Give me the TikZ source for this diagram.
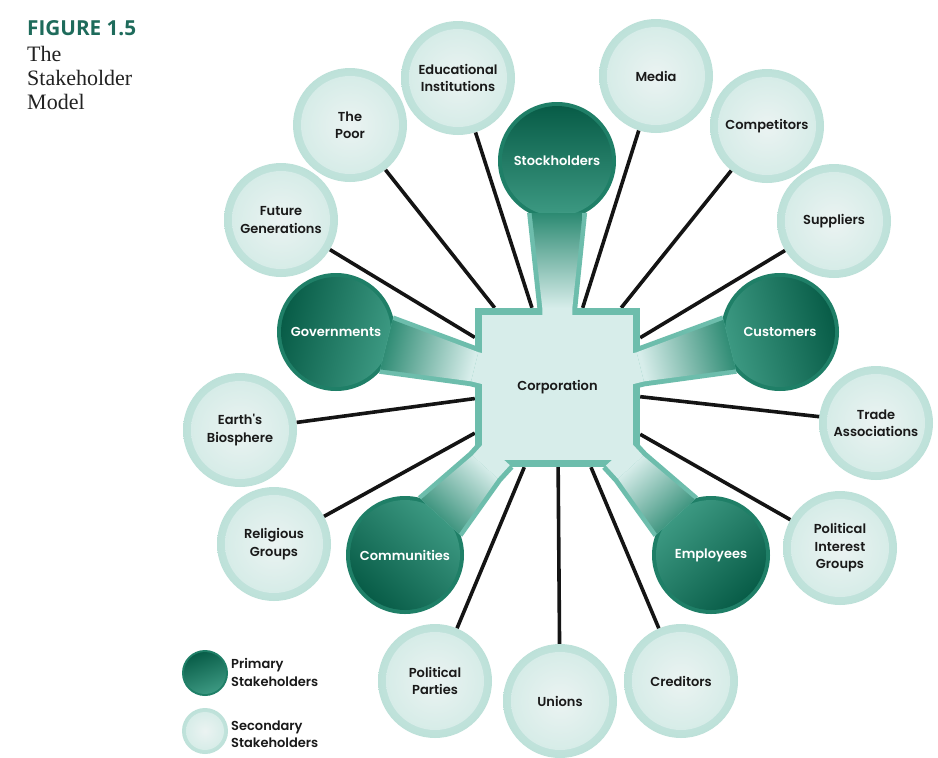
\documentclass[tikz,border=0pt]{standalone}
\usepackage{fontspec}
\setmainfont{Liberation Serif}
\newfontfamily\labf{Poppins SemiBold}
\newfontfamily\titf{Open Sans}
\usetikzlibrary{calc}
\definecolor{ttl}{HTML}{1E6B5B}
\definecolor{capc}{HTML}{222222}
\definecolor{sring}{HTML}{BDE1D9}
\definecolor{souter}{HTML}{D3EBE6}
\definecolor{sinner}{HTML}{EBF3F2}
\definecolor{pring}{HTML}{1F7F67}
\definecolor{pdark}{HTML}{065A45}
\definecolor{plight}{HTML}{3F9C85}
\definecolor{armbd}{HTML}{6DBDAC}
\definecolor{armdk}{HTML}{2C8A72}
\definecolor{sqin}{HTML}{D7EDEA}
\tikzset{
  labfont/.style={font=\labf\fontsize{13pt}{17.5pt}\selectfont},
  sec/.style={circle, minimum size=114pt, inner sep=0pt, align=center, labfont, text=black!90,
    inner color=souter, outer color=sring,
    path picture={\shade[inner color=sinner, outer color=souter] (path picture bounding box.center) circle (49pt);}},
  prim/.style={circle, minimum size=118pt, inner sep=0pt, fill=pring,
    path picture={\shade[top color=plight, bottom color=pdark, shading angle=#1] (path picture bounding box.center) circle (55pt);}},
  lsec/.style={circle, minimum size=46pt, inner sep=0pt, inner color=souter, outer color=sring,
    path picture={\shade[inner color=sinner, outer color=souter] (path picture bounding box.center) circle (19pt);}},
  lprim/.style={circle, minimum size=46pt, inner sep=0pt, fill=pring,
    path picture={\shade[top color=plight, bottom color=pdark, shading angle=200] (path picture bounding box.center) circle (21pt);}},
  plab/.style={labfont, text=white, align=center},
  conn/.style={line width=3.6pt, black!92},
}
% #1 name, #2 t_edge, #3 t_f, #4 half width at edge, #5 inner half width, #6 shading angle
\newcommand\armdraw[6]{%
  \coordinate (#1a) at ($(#1)!52pt!(sc)$);
  \coordinate (#1e) at ($(#1)!#2pt!(sc)$);
  \coordinate (#1f) at ($(#1)!#3pt!(sc)$);
  \fill[armbd] ($(#1a)!30pt!90:(sc)$) -- ($(#1e)!#4pt!90:(sc)$) -- ($(#1f)!#4pt!90:(sc)$)
     -- ($(#1f)!#4pt!-90:(sc)$) -- ($(#1e)!#4pt!-90:(sc)$) -- ($(#1a)!30pt!-90:(sc)$) -- cycle;
  \shade[top color=sqin, bottom color=armdk, shading angle=#6]
     ($(#1a)!25.5pt!90:(sc)$) -- ($(#1e)!#5pt!90:(sc)$) -- ($(#1e)!#5pt!-90:(sc)$) -- ($(#1a)!25.5pt!-90:(sc)$) -- cycle;
  \fill[sqin] ($(#1e)!#5pt!90:(sc)$) -- ($(#1f)!#5pt!90:(sc)$) -- ($(#1f)!#5pt!-90:(sc)$) -- ($(#1e)!#5pt!-90:(sc)$) -- cycle;
}
\begin{document}
\begin{tikzpicture}[x=1pt,y=-1pt]
\useasboundingbox[fill=white] (0,0) rectangle (938,758);
\coordinate (sc) at (557.5,387.5);
\node[rectangle, minimum width=165pt, minimum height=159pt, inner sep=0pt] (corp) at (sc) {};
% secondary stakeholders
\node[sec] (edu) at (458,78) {Educational\\Institutions};
\node[sec] (media) at (656,76) {Media};
\node[sec] (comp) at (767,126) {Competitors};
\node[sec] (supp) at (834,221) {Suppliers};
\node[sec] (trade) at (876,423) {Trade\\Associations};
\node[sec] (pig) at (840,548) {Political\\Interest\\Groups};
\node[sec] (cred) at (681,681) {Creditors};
\node[sec] (unions) at (560,701) {Unions};
\node[sec] (ppart) at (435,681) {Political\\Parties};
\node[sec] (relig) at (274,544) {Religious\\Groups};
\node[sec] (earth) at (240,430) {Earth's\\Biosphere};
\node[sec] (future) at (281,220) {Future\\Generations};
\node[sec] (poor) at (350,125) {The\\Poor};
% primary stakeholders
\node[prim=180] (stock) at (557,161) {};
\node[prim=256] (gov) at (336,332) {};
\node[prim=104] (cust) at (780,332) {};
\node[prim=318] (comm) at (405,555) {};
\node[prim=42] (emp) at (711,555) {};
% connectors
\foreach \s in {edu,media,comp,supp,trade,pig,cred,unions,ppart,relig,earth,future,poor}
  \draw[conn] (\s) -- (corp);
% corporation and arms
\fill[armbd] (corp.south west) rectangle (corp.north east);
\armdraw{stock}{147}{165}{20}{15}{180}
\armdraw{gov}{143}{161}{20}{15}{256}
\armdraw{cust}{144}{162}{20}{15}{104}
\armdraw{comm}{119}{137}{22}{17}{318}
\armdraw{emp}{119}{137}{22}{17}{42}
\fill[sqin] ($(corp.south west)+(7,-7)$) rectangle ($(corp.north east)+(-7,7)$);
\node[labfont, text=black!90] (corptxt) at (sc) {Corporation};
\node[plab] (stockl) at (stock) {Stockholders};
\node[plab] (govl) at (gov) {Governments};
\node[plab] (custl) at (cust) {Customers};
\node[plab] (comml) at (comm) {Communities};
\node[plab] (empl) at (emp) {Employees};
% legend
\node[lprim] (lp) at (205,673) {};
\node[lsec] (ls) at (205,731) {};
\node[labfont, anchor=west, align=left, inner sep=0pt, text=black!90] (lpt) at (231,672.5) {Primary\\Stakeholders};
\node[labfont, anchor=west, align=left, inner sep=0pt, text=black!90] (lst) at (231,734) {Secondary\\Stakeholders};
% title
\node[anchor=base west, inner sep=0pt, font=\titf\bfseries\fontsize{20.7pt}{24pt}\selectfont, text=ttl] (fig) at (27,35) {FIGURE 1.5};
\node[anchor=north west, inner sep=0pt, align=left, font=\fontsize{22pt}{24pt}\selectfont, text=capc] (cap) at (27,46) {The\\Stakeholder\\Model};
\end{tikzpicture}
\end{document}
